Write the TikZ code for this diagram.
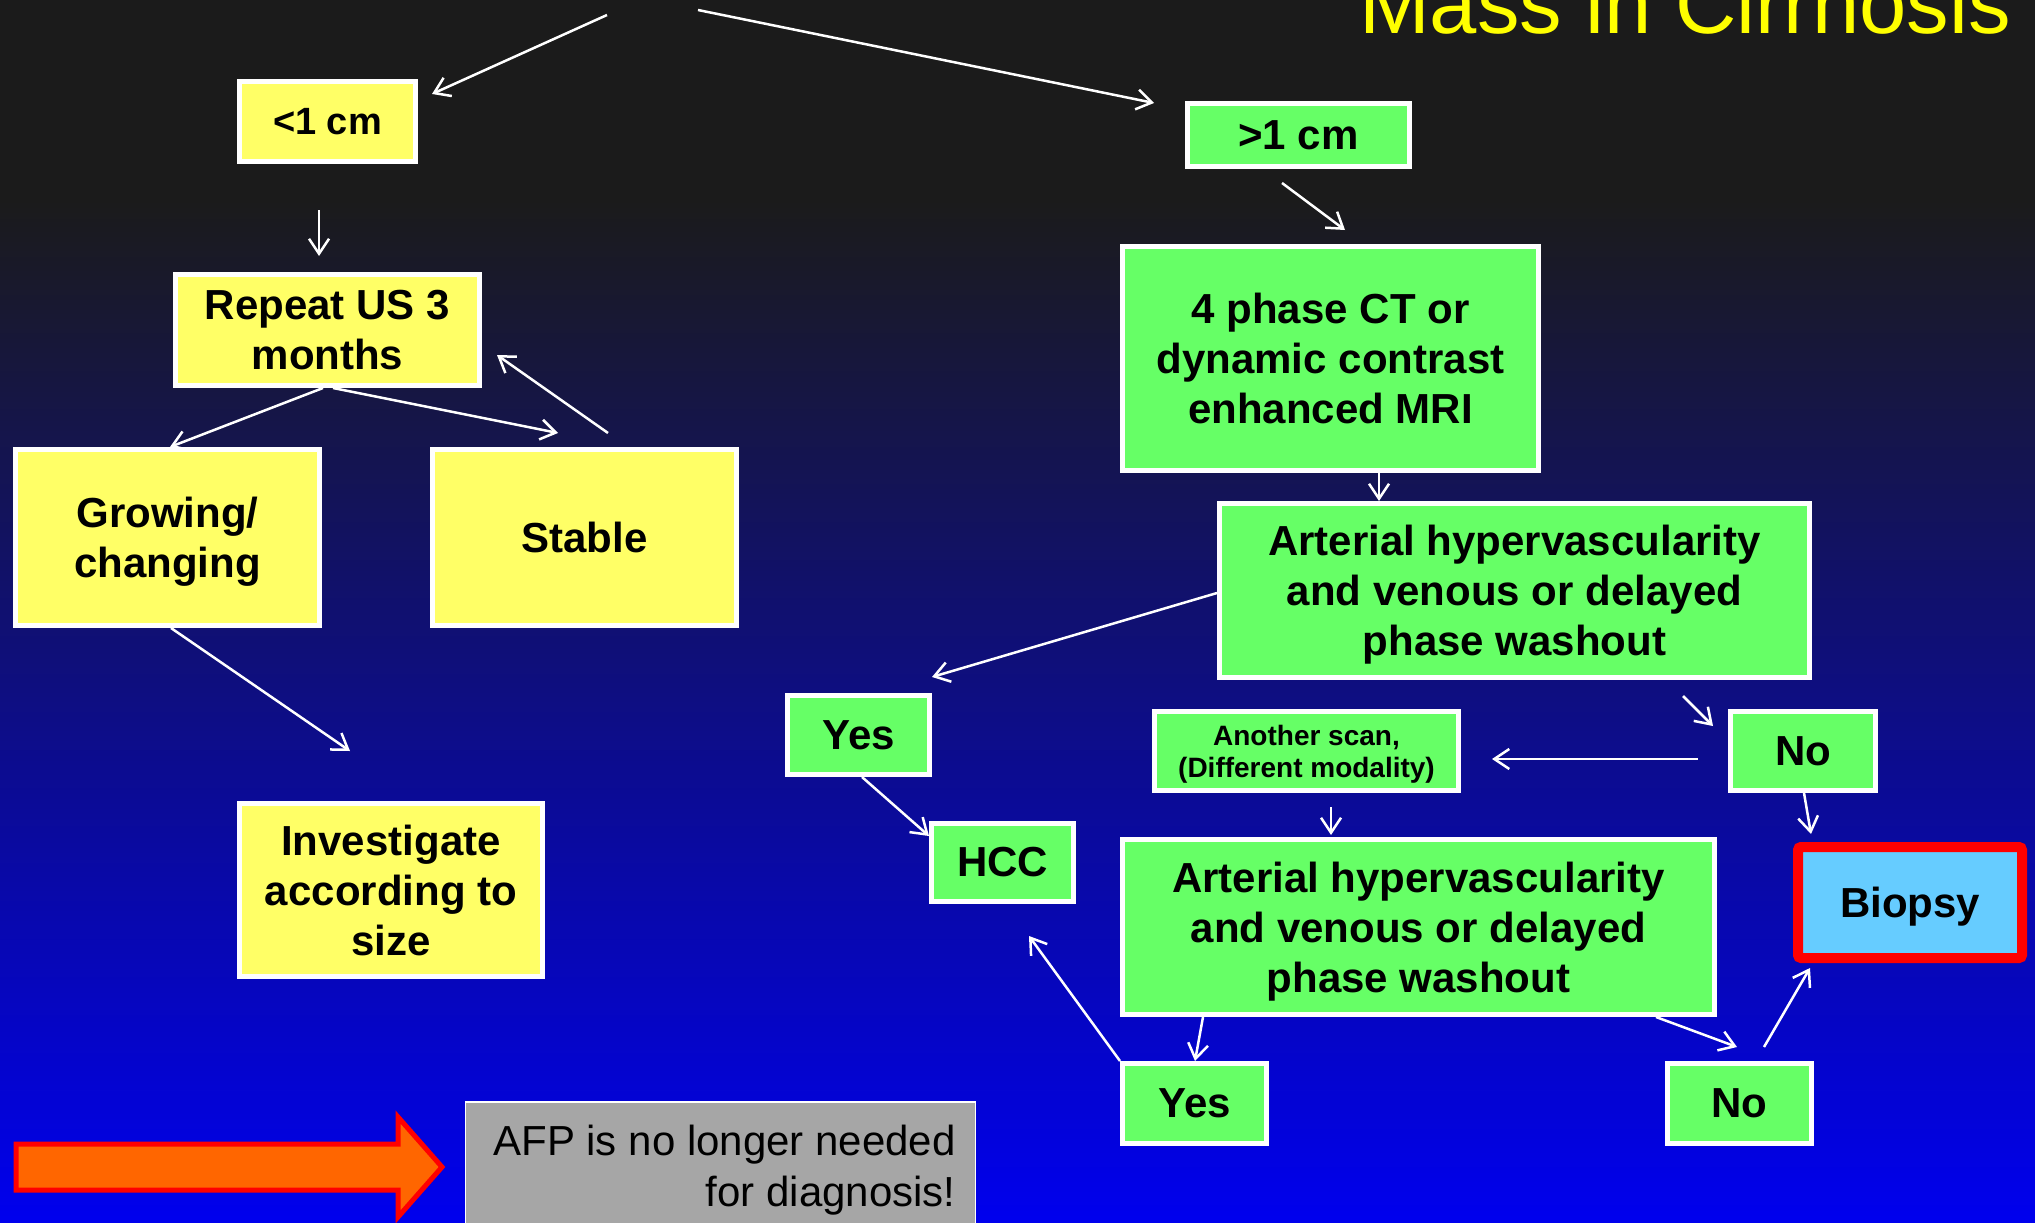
\documentclass[tikz,border=0pt]{standalone}
\usepackage{fontspec}
\setmainfont{Liberation Sans}
\usetikzlibrary{arrows.meta,calc}
\definecolor{ylw}{HTML}{FFFF66}
\definecolor{grn}{HTML}{66FF66}
\definecolor{blu}{HTML}{66CCFF}
\definecolor{gry}{HTML}{A6A6A6}
\definecolor{org}{HTML}{FF6600}
\definecolor{ttl}{HTML}{FFFF00}
\definecolor{bgtop}{HTML}{1B1B1B}
\definecolor{bgmid}{HTML}{0E0E88}
\definecolor{bgbot}{HTML}{0000EE}
\newcommand\nd[1]{\raisebox{0pt}[\height][0pt]{#1}}
\tikzset{
  box/.style={draw=white, line width=5pt, inner sep=0pt, align=center, text=black,
    font=\bfseries\fontsize{42}{50}\selectfont},
  ybox/.style={box, fill=ylw},
  gbox/.style={box, fill=grn},
  conn/.style={draw=white, line width=2.5pt, -{Straight Barb[length=15pt,width=20pt]}},
}
\begin{document}
\begin{tikzpicture}[x=1pt,y=-1pt]
\useasboundingbox (0,0) rectangle (2035,1223);
% background
\fill[bgtop] (0,0) rectangle (2035,201);
\shade[top color=bgtop, middle color=bgmid, bottom color=bgbot] (0,200) rectangle (2035,1223);

% title
\node[anchor=base east, text=ttl, inner sep=0pt, font=\fontsize{85}{100}\selectfont] (title) at (2011,34) {Mass in Cirrhosis};

% left branch
\node[ybox, minimum width=176pt, minimum height=80pt, font=\bfseries\fontsize{38}{46}\selectfont] (lt) at (327.5,121.5) {<1 cm};
\node[ybox, minimum width=304pt, minimum height=111pt] (rep) at (327.5,330) {Repeat US 3\\months};
\node[ybox, minimum width=304pt, minimum height=176pt] (grow) at (167.5,537.5) {Growing/\\\nd{changing}};
\node[ybox, minimum width=304pt, minimum height=176pt] (stab) at (584.5,537.5) {Stable};
\node[ybox, minimum width=303pt, minimum height=173pt] (inv) at (391,890) {Investigate\\according to\\size};

% right branch
\node[gbox, minimum width=222pt, minimum height=63pt] (gt) at (1298.5,135) {>1 cm};
\node[gbox, minimum width=416pt, minimum height=224pt] (ct) at (1330.5,358.5) {4 phase CT or\\dynamic contrast\\enhanced MRI};
\node[gbox, minimum width=590pt, minimum height=174pt] (art1) at (1514.5,590.5) {Arterial hypervascularity\\and venous or delayed\\\nd{phase washout}};
\node[gbox, minimum width=142pt, minimum height=79pt] (yes1) at (858.5,735) {Yes};
\node[gbox, minimum width=304pt, minimum height=79pt, font=\bfseries\fontsize{28}{32}\selectfont] (scan) at (1306.5,751) {Another scan,\\\nd{(Different modality)}};
\node[gbox, minimum width=145pt, minimum height=79pt] (no1) at (1803,751) {No};
\node[gbox, minimum width=142pt, minimum height=78pt] (hcc) at (1002.5,862.5) {HCC};
\node[gbox, minimum width=592pt, minimum height=175pt] (art2) at (1418.5,927) {Arterial hypervascularity\\and venous or delayed\\\nd{phase washout}};
\node[box, fill=blu, draw=red, line width=10pt, rounded corners=3pt, minimum width=224pt, minimum height=111pt] (bio) at (1910,902.5) {\nd{Biopsy}};
\node[gbox, minimum width=144pt, minimum height=80pt] (yes2) at (1194.5,1103.5) {Yes};
\node[gbox, minimum width=144pt, minimum height=80pt] (no2) at (1739.5,1103.5) {No};

% AFP note
\node[draw=white, line width=1.5pt, fill=gry, minimum width=510pt, minimum height=136pt, align=right, inner sep=0pt, text=black, font=\fontsize{42}{51}\selectfont] (afp) at (720.5,1170) {\hspace*{8pt}AFP is no longer needed\\for diagnosis!};

% big orange arrow
\draw[fill=org, draw=red, line width=5pt, line join=miter]
  (16,1144) -- (398,1144) -- (398,1117) -- (442,1167) -- (398,1217) -- (398,1190) -- (16,1190) -- cycle;

% connector end points
\coordinate (s1) at (607,15);    \coordinate (e1) at (432,94);
\coordinate (s2) at (698,10);    \coordinate (e2) at (1154,103);
\coordinate (s3) at (319,210);   \coordinate (e3) at (319,256);
\coordinate (s4) at (1282,183);  \coordinate (e4) at (1345,230);
\coordinate (e6) at (558,433);
\coordinate (s7) at (608,433);   \coordinate (e7) at (497,355);
\coordinate (e8) at (350,751);
\coordinate (e10) at (932,677);
\coordinate (s11) at (1683,696); \coordinate (e11) at (1713,726);
\coordinate (s12) at (1698,759); \coordinate (e12) at (1492,759);
\coordinate (s13) at (1331,807); \coordinate (e13) at (1331,835);
\coordinate (e15) at (1811,834);
\coordinate (e17) at (1737,1047);
\coordinate (e18) at (1029,936);
\coordinate (s19) at (1764,1047); \coordinate (e19) at (1810,968);

% connectors
\draw[conn] (s1) -- (e1);
\draw[conn] (s2) -- (e2);
\draw[conn] (s3) -- (e3);
\draw[conn] (s4) -- (e4);
\draw[conn] ($(rep.south)+(-4.5,0)$) -- ($(grow.north)+(2.5,0)$);
\draw[conn] ($(rep.south)+(5.5,0)$) -- (e6);
\draw[conn] (s7) -- (e7);
\draw[conn] ($(grow.south)+(3.5,0)$) -- (e8);
\draw[conn] ($(ct.south)+(48.5,0)$) -- ($(art1.north)+(-135.5,0)$);
\draw[conn] ($(art1.west)+(0,2.5)$) -- (e10);
\draw[conn] (s11) -- (e11);
\draw[conn] (s12) -- (e12);
\draw[conn] (s13) -- (e13);
\draw[conn] ($(yes1.south)+(3.5,0)$) -- ($(hcc.north west)+(0,15)$);
\draw[conn] ($(no1.south)+(1,0)$) -- (e15);
\draw[conn] ($(art2.south)+(-215.5,0)$) -- ($(yes2.north)+(0.5,0)$);
\draw[conn] ($(art2.south)+(237.5,0)$) -- (e17);
\draw[conn] (yes2.north west) -- (e18);
\draw[conn] (s19) -- (e19);
\end{tikzpicture}
\end{document}
